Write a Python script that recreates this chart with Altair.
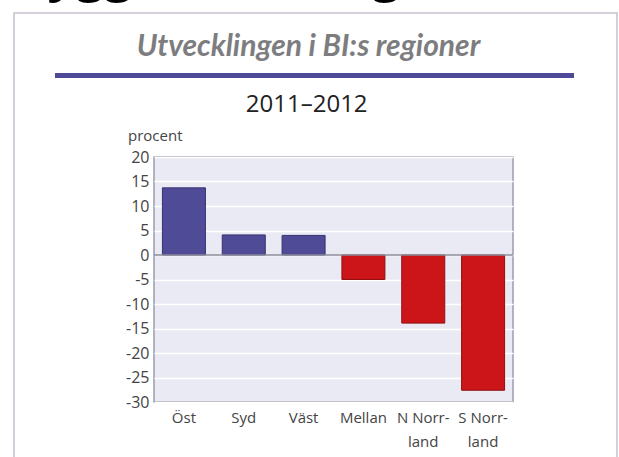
import altair as alt
import pandas as pd

regions = ["Öst", "Syd", "Väst", "Mellan", "N Norrland", "S Norrland"]
values = [13.7, 4.1, 4.0, -5.0, -13.9, -27.6]
y_ticks = [20, 15, 10, 5, 0, -5, -10, -15, -20, -25, -30]

df = pd.DataFrame({"region": regions, "value": values})
df["sign"] = ["pos" if v >= 0 else "neg" for v in values]

W, H = 359, 245
L, T = 154, 157
FONT = "Open Sans"
one = pd.DataFrame({"a": [0], "z": [0]})

label_expr = ("datum.label == 'N Norrland' ? ['N Norr-', 'land'] : "
              "datum.label == 'S Norrland' ? ['S Norr-', 'land'] : datum.label")

yscale = alt.Scale(domain=[-30, 20], nice=False, zero=False)
yaxis = alt.Axis(title=None, values=y_ticks, ticks=False, domain=False,
                 grid=True, gridColor="white", gridWidth=1.5,
                 labelExpr="'' + datum.value", labelOverlap=False,
                 labelFont=FONT, labelFontSize=16, labelColor="#444444",
                 labelPadding=5)

bars = alt.Chart(df).mark_bar(size=43, strokeWidth=1).encode(
    x=alt.X("region:N", sort=regions,
            scale=alt.Scale(paddingInner=0, paddingOuter=0),
            axis=alt.Axis(title=None, labelExpr=label_expr, labelAngle=0,
                          ticks=False, domain=False, grid=False,
                          labelFont=FONT, labelFontSize=15, labelColor="#444444",
                          labelPadding=8, labelLineHeight=24)),
    y=alt.Y("value:Q", scale=yscale, axis=yaxis),
    color=alt.Color("sign:N", scale=alt.Scale(domain=["pos", "neg"],
                                              range=["#4f4b97", "#cb1518"]),
                    legend=None),
    stroke=alt.Stroke("sign:N", scale=alt.Scale(domain=["pos", "neg"],
                                                range=["#363170", "#8e1010"]),
                      legend=None),
)

zero = alt.Chart(one).mark_rule(color="#8c8c9a", strokeWidth=1.5).encode(
    y=alt.Y("z:Q", scale=yscale, axis=yaxis), x=alt.value(0), x2=alt.value(W))

frame = alt.Chart(one).mark_rect(fillOpacity=0, stroke="#c8c0d0", strokeWidth=1.5).encode(
    x=alt.value(14 - L), x2=alt.value(617 - L),
    y=alt.value(13 - T), y2=alt.value(480 - T))

topline = alt.Chart(one).mark_rule(color="#4f4a97", strokeWidth=5).encode(
    x=alt.value(55 - L), x2=alt.value(574 - L), y=alt.value(75.5 - T))

head = alt.Chart(one).mark_text(text="Byggandet i regionerna", font=FONT,
                                fontSize=50, fontWeight="bold", color="black",
                                align="left", baseline="alphabetic").encode(
    x=alt.value(14 - L), y=alt.value(-9 - T))

title = alt.Chart(one).mark_text(text="Utvecklingen i BI:s regioner", font="Lato",
                                 fontSize=30, fontWeight="bold", fontStyle="italic",
                                 color="#7d7d80", align="center",
                                 baseline="alphabetic").encode(
    x=alt.value(308.5 - L), y=alt.value(56 - T))

sub = alt.Chart(one).mark_text(text="2011–2012", font=FONT, fontSize=24,
                               color="#222222", align="center",
                               baseline="alphabetic").encode(
    x=alt.value(306.7 - L), y=alt.value(112 - T))

unit = alt.Chart(one).mark_text(text="procent", font=FONT, fontSize=15,
                                color="#444444", align="left",
                                baseline="alphabetic").encode(
    x=alt.value(128 - L), y=alt.value(141 - T))

chart = alt.layer(frame, head, title, topline, sub, unit, bars, zero).properties(
    width=W, height=H,
    padding={"left": L, "top": T, "right": 619 - L - W, "bottom": 457 - T - H},
    autosize=alt.AutoSizeParams(type="none"),
).configure_view(fill="#eaeaf5", stroke="#9c9cab", strokeWidth=1.5)

chart.save("out.html", embed_options={"renderer": "svg", "actions": False})
